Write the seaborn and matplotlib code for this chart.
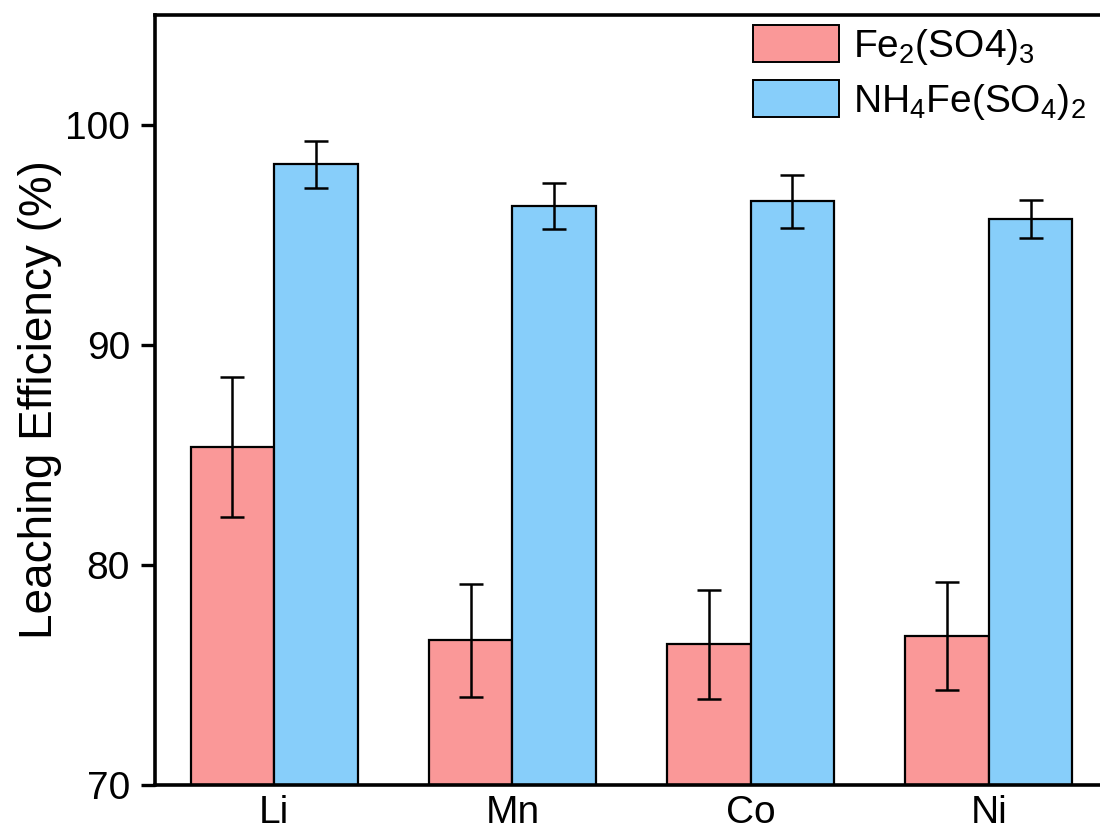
import matplotlib
matplotlib.use("Agg")
import matplotlib.pyplot as plt
from matplotlib.patches import Patch
import seaborn as sns
import pandas as pd

metals = ["Li", "Mn", "Co", "Ni"]
reagents = ["Fe$_2$(SO4)$_3$", "NH$_4$Fe(SO$_4$)$_2$"]
fe2_vals = [85.37, 76.57, 76.40, 76.76]
fe2_err = [3.17, 2.55, 2.47, 2.45]
nh4_vals = [98.21, 96.32, 96.53, 95.72]
nh4_err = [1.07, 1.03, 1.20, 0.86]
colors = ["#FA9898", "#87CEFA"]
yticks = [70, 80, 90, 100]

sns.set_style("ticks", {"axes.edgecolor": "black", "text.color": "black",
                        "xtick.color": "black", "ytick.color": "black",
                        "axes.labelcolor": "black"})
plt.rcParams["font.family"] = ["Liberation Sans", "DejaVu Sans"]
plt.rcParams["mathtext.fontset"] = "custom"
plt.rcParams["mathtext.rm"] = "Liberation Sans"
plt.rcParams["mathtext.it"] = "Liberation Sans:italic"
plt.rcParams["mathtext.default"] = "regular"

df = pd.DataFrame({
    "metal": metals * 2,
    "reagent": [reagents[0]] * 4 + [reagents[1]] * 4,
    "value": fe2_vals + nh4_vals,
    "err": fe2_err + nh4_err,
})

fig = plt.figure(figsize=(11, 8.34), dpi=100)
ax = fig.add_axes([155 / 1100, 49 / 834, 953 / 1100, 770 / 834])

sns.barplot(data=df, x="metal", y="value", hue="reagent", order=metals,
            hue_order=reagents, palette=colors, saturation=1, width=0.7,
            edgecolor="black", linewidth=1.6, errorbar=None, legend=False, ax=ax)

errs = [fe2_err, nh4_err]
for cont, e in zip(ax.containers, errs):
    xs = [p.get_x() + p.get_width() / 2 for p in cont.patches]
    ys = [p.get_height() for p in cont.patches]
    ax.errorbar(xs, ys, yerr=e, fmt="none", ecolor="black", elinewidth=1.8,
                capsize=8.6, capthick=1.8, zorder=5)

ax.set_ylim(70, 105)
ax.set_xlim(-0.5, 3.5)
ax.set_yticks(yticks)
ax.set_xlabel("")
ax.set_ylabel("Leaching Efficiency (%)", fontsize=33, labelpad=2)

for s in ax.spines.values():
    s.set_linewidth(2.6)
    s.set_visible(True)
ax.tick_params(axis="y", direction="out", length=10, width=2.4, labelsize=28,
               pad=8, colors="black")
ax.tick_params(axis="x", length=0, labelsize=28, pad=7, colors="black")

handles = [Patch(facecolor=c, edgecolor="black", linewidth=1.4) for c in colors]
leg = ax.legend(handles, reagents, loc="upper left",
                bbox_to_anchor=(753 / 1100, (834 - 25) / 834),
                bbox_transform=fig.transFigure, frameon=False, fontsize=28,
                handlelength=2.2, handleheight=1.08, handletextpad=0.37,
                labelspacing=0.35, borderpad=0, borderaxespad=0)
for t in leg.get_texts():
    t.set_color("black")

fig.savefig("out.png", dpi=100)
